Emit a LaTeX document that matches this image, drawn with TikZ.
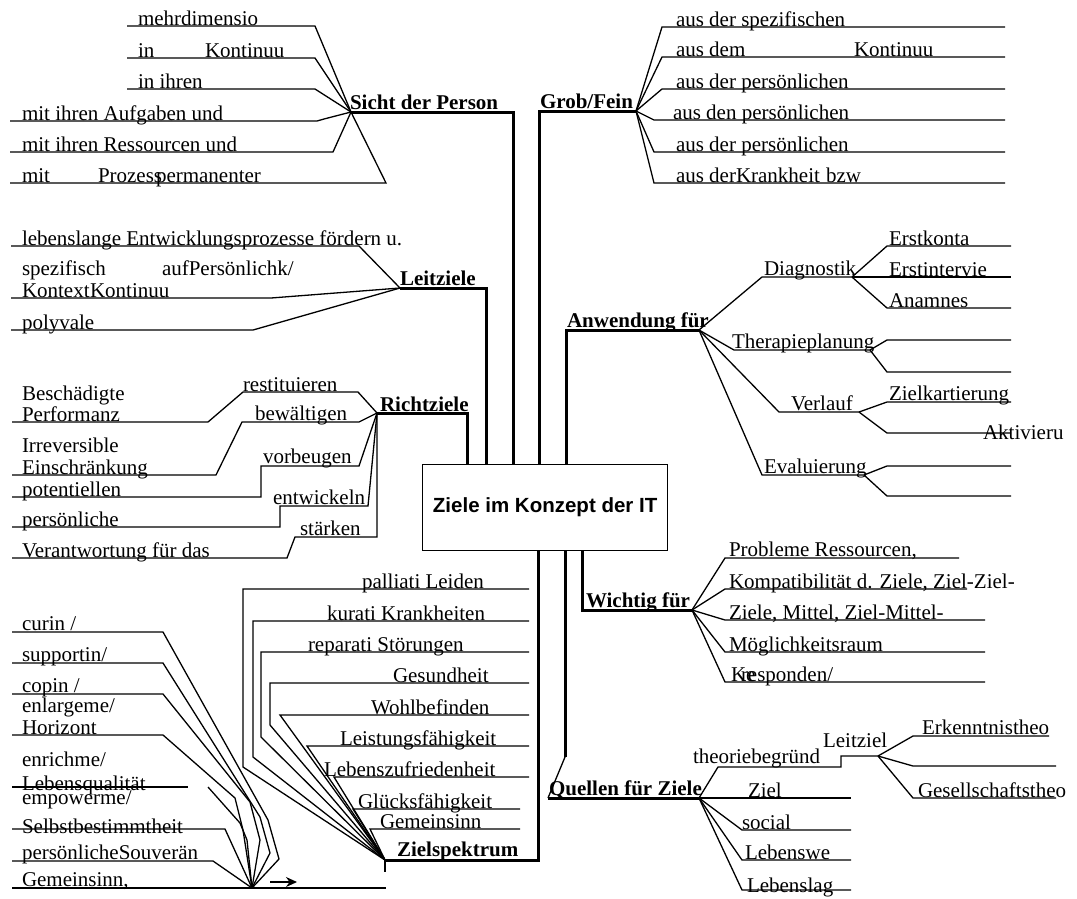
\documentclass[tikz,border=0pt]{standalone}
\usepackage{fontspec}
\setmainfont{Liberation Serif}
\newfontfamily\sansbox{Liberation Sans}
\usetikzlibrary{arrows.meta}
\tikzset{
  txt/.style={anchor=base west, inner sep=0pt, outer sep=0pt, font=\fontsize{21}{25}\selectfont},
  lbl/.style={anchor=base west, inner sep=0pt, outer sep=0pt, font=\fontsize{21}{25}\selectfont\bfseries},
  ln/.style={line width=1.3pt, line join=miter},
  thk/.style={line width=3pt, line join=miter},
}
\begin{document}
\begin{tikzpicture}[x=1pt,y=-1pt]
\useasboundingbox (0,0) rectangle (1077,898);
\fill[white] (0,0) rectangle (1077,898);

% central box
\node[draw, line width=1.3pt, minimum width=245pt, minimum height=86pt, inner sep=0pt,
      anchor=north west, font=\sansbox\bfseries\fontsize{20.5}{24}\selectfont] (box) at (422,464) {Ziele im Konzept der IT};

% ---------------- Sicht der Person
\coordinate (hubS) at (351,112);
\coordinate (cS) at (513,112);
\node[lbl] (lS) at (350,109) {Sicht der Person};
\draw[thk] (hubS) -- (cS) -- (cS |- box.north);
\coordinate (s1) at (127,26);
\coordinate (s2) at (127,58);
\coordinate (s3) at (127,89);
\coordinate (s4) at (10,121);
\coordinate (s5) at (10,152);
\coordinate (s6) at (10,183);
\draw[ln] (hubS) -- (315,26) -- (s1);
\draw[ln] (hubS) -- (315,58) -- (s2);
\draw[ln] (hubS) -- (315,89) -- (s3);
\draw[ln] (hubS) -- (324,119) -- (317,121) -- (s4);
\draw[ln] (hubS) -- (333,152) -- (s5);
\draw[ln] (hubS) -- (386,183) -- (s6);
\node[txt] (ts1) at (138,25) {mehrdimensio};
\node[txt] (ts2a) at (138,57) {in};
\node[txt] (ts2b) at (205,57) {Kontinuu};
\node[txt] (ts3) at (138,88) {in ihren};
\node[txt] (ts4) at (22,120) {mit ihren Aufgaben und};
\node[txt] (ts5) at (22,151) {mit ihren Ressourcen und};
\node[txt] (ts6a) at (22,182) {mit};
\node[txt] (ts6b) at (98,182) {Prozess};
\node[txt] (ts6c) at (156,182) {permanenter};

% ---------------- Grob/Fein
\coordinate (hubG) at (636,111);
\coordinate (cG) at (539,111);
\node[lbl] (lG) at (540,108) {Grob/Fein};
\draw[thk] (hubG) -- (cG) -- (cG |- box.north);
\coordinate (g1) at (1005,27);
\coordinate (g2) at (1005,57);
\coordinate (g3) at (1005,89);
\coordinate (g4) at (1005,120);
\coordinate (g5) at (1005,152);
\coordinate (g6) at (1005,183);
\draw[ln] (hubG) -- (662,27) -- (g1);
\draw[ln] (hubG) -- (662,57) -- (g2);
\draw[ln] (hubG) -- (662,89) -- (g3);
\draw[ln] (hubG) -- (654,120) -- (g4);
\draw[ln] (hubG) -- (654,152) -- (g5);
\draw[ln] (hubG) -- (654,183) -- (g6);
\node[txt] (tg1) at (676,26) {aus der spezifischen};
\node[txt] (tg2a) at (676,56) {aus dem};
\node[txt] (tg2b) at (854,56) {Kontinuu};
\node[txt] (tg3) at (676,88) {aus der persönlichen};
\node[txt] (tg4) at (673,119) {aus den persönlichen};
\node[txt] (tg5) at (676,151) {aus der persönlichen};
\node[txt] (tg6a) at (676,182) {aus der};
\node[txt] (tg6b) at (736,182) {Krankheit};
\node[txt] (tg6c) at (826,182) {bzw};

% ---------------- Leitziele
\coordinate (hubL) at (400,288);
\coordinate (cL) at (486,288);
\node[lbl] (lL) at (400,285) {Leitziele};
\draw[thk] (hubL) -- (cL) -- (cL |- box.north);
\coordinate (l1) at (11,246);
\coordinate (l2) at (11,298);
\coordinate (l3) at (11,330);
\draw[ln] (hubL) -- (359,246) -- (l1);
\draw[ln] (hubL) -- (271,298) -- (l2);
\draw[ln] (hubL) -- (253,330) -- (l3);
\node[txt] (tl1) at (22,245) {lebenslange Entwicklungsprozesse fördern u.};
\node[txt] (tl2a) at (22,275) {spezifisch};
\node[txt] (tl2b) at (162,275) {aufPersönlichk/};
\node[txt] (tl2c) at (22,297) {Kontext};
\node[txt] (tl2d) at (90,297) {Kontinuu};
\node[txt] (tl3) at (22,329) {polyvale};

% ---------------- Richtziele
\coordinate (hubR) at (377,413);
\coordinate (cR) at (467,413);
\node[lbl] (lR) at (380,411) {Richtziele};
\draw[thk] (hubR) -- (cR) -- (cR |- box.north);
\coordinate (r1) at (12,422);
\coordinate (r2) at (12,475);
\coordinate (r3) at (12,497);
\coordinate (r4) at (12,527);
\coordinate (r5) at (12,558);
\draw[ln] (hubR) -- (358,392) -- (243,392) -- (208,422) -- (r1);
\draw[ln] (hubR) -- (359,422) -- (242,422) -- (216,475) -- (r2);
\draw[ln] (hubR) -- (359,466) -- (261,466) -- (261,497) -- (r3);
\draw[ln] (hubR) -- (368,506) -- (280,506) -- (280,527) -- (r4);
\draw[ln] (hubR) -- (377,537) -- (295,537) -- (287,558) -- (r5);
\node[txt] (tr1a) at (22,400) {Beschädigte};
\node[txt] (tr1b) at (22,421) {Performanz};
\node[txt] (tr1c) at (243,391) {restituieren};
\node[txt] (tr2a) at (22,452) {Irreversible};
\node[txt] (tr2b) at (22,474) {Einschränkung};
\node[txt] (tr2c) at (255,420) {bewältigen};
\node[txt] (tr3a) at (22,496) {potentiellen};
\node[txt] (tr3b) at (263,463) {vorbeugen};
\node[txt] (tr4a) at (22,526) {persönliche};
\node[txt] (tr4b) at (273,504) {entwickeln};
\node[txt] (tr5a) at (22,557) {Verantwortung für das};
\node[txt] (tr5b) at (300,535) {stärken};

% ---------------- Zielspektrum
\coordinate (hubZ) at (385,860);
\coordinate (cZ) at (538,860);
\coordinate (tick) at (385,872);
\node[lbl] (lZ) at (397,856) {Zielspektrum};
\draw[thk] (hubZ) -- (cZ) -- (cZ |- box.south);
\draw[ln] (hubZ) -- (tick);
\coordinate (z1) at (529,589);
\coordinate (z2) at (529,621);
\coordinate (z3) at (529,652);
\coordinate (z4) at (529,683);
\coordinate (z5) at (529,715);
\coordinate (z6) at (529,746);
\coordinate (z7) at (529,777);
\coordinate (z8) at (520,809);
\coordinate (z9) at (520,829);
\draw[ln] (hubZ) -- (243,767) -- (243,589) -- (z1);
\draw[ln] (hubZ) -- (253,757) -- (253,621) -- (z2);
\draw[ln] (hubZ) -- (261,737) -- (261,652) -- (z3);
\draw[ln] (hubZ) -- (270,725) -- (270,683) -- (z4);
\draw[ln] (hubZ) -- (280,715) -- (z5);
\draw[ln] (hubZ) -- (307,746) -- (z6);
\draw[ln] (hubZ) -- (334,777) -- (z7);
\draw[ln] (hubZ) -- (353,809) -- (z8);
\draw[ln] (hubZ) -- (370,829) -- (z9);
\node[txt] (tz1) at (362,588) {palliati Leiden};
\node[txt] (tz2) at (327,620) {kurati Krankheiten};
\node[txt] (tz3) at (308,651) {reparati Störungen};
\node[txt] (tz4) at (393,682) {Gesundheit};
\node[txt] (tz5) at (371,714) {Wohlbefinden};
\node[txt] (tz6) at (340,745) {Leistungsfähigkeit};
\node[txt] (tz7) at (324,776) {Lebenszufriedenheit};
\node[txt] (tz8) at (358,808) {Glücksfähigkeit};
\node[txt] (tz9) at (380,828) {Gemeinsinn};

% ---------------- bottom-left fan
\coordinate (hubF) at (252,888);
\coordinate (f1) at (12,632);
\coordinate (f2) at (12,663);
\coordinate (f3) at (12,694);
\coordinate (f4) at (12,735);
\coordinate (f5a) at (12,787);
\coordinate (f5b) at (188,787);
\coordinate (f5c) at (208,787);
\coordinate (f6) at (12,829);
\coordinate (f7) at (12,861);
\coordinate (f8a) at (12,888);
\coordinate (f8b) at (386,888);
\draw[ln] (hubF) -- (279,859) -- (268,820) -- (163,632) -- (f1);
\draw[ln] (hubF) -- (270,853) -- (260,817) -- (163,663) -- (f2);
\draw[ln] (hubF) -- (260,840) -- (250,802) -- (163,694) -- (f3);
\draw[ln] (hubF) -- (243,830) -- (235,798) -- (163,735) -- (f4);
\draw[ln] (f5a) -- (f5b);
\draw[ln] (hubF) -- (247,840) -- (240,823) -- (f5c);
\draw[ln] (hubF) -- (225,829) -- (f6);
\draw[ln] (hubF) -- (213,861) -- (f7);
\draw[ln] (f8a) -- (f8b);
\coordinate (ar1) at (270,882);
\coordinate (ar2) at (297,882);
\draw[ln, -{Stealth[length=11pt,width=10pt]}] (ar1) -- (ar2);
\node[txt] (tf1) at (22,630) {curin /};
\node[txt] (tf2) at (22,661) {supportin/};
\node[txt] (tf3) at (22,692) {copin /};
\node[txt] (tf4a) at (22,712) {enlargeme/};
\node[txt] (tf4b) at (22,734) {Horizont};
\node[txt] (tf5a) at (22,766) {enrichme/};
\node[txt] (tf5b) at (22,790) {Lebensqualität};
\node[txt] (tf5c) at (22,804) {empowerme/};
\node[txt] (tf6) at (22,833) {Selbstbestimmtheit};
\node[txt] (tf7) at (22,859) {persönlicheSouverän};
\node[txt] (tf8) at (22,886) {Gemeinsinn,};

% ---------------- Anwendung für
\coordinate (hubA) at (699,330);
\coordinate (cA) at (566,330);
\node[lbl] (lA) at (567,327) {Anwendung für};
\draw[thk] (hubA) -- (cA) -- (cA |- box.north);
\coordinate (hD) at (852,277);
\coordinate (hT) at (870,350);
\coordinate (hV) at (859,412);
\coordinate (hE) at (864,475);
\draw[ln] (hubA) -- (762,277) -- (hD);
\draw[ln] (hubA) -- (734,350) -- (hT);
\draw[ln] (hubA) -- (779,412) -- (hV);
\draw[ln] (hubA) -- (762,475) -- (hE);
\coordinate (d1) at (1011,246);
\coordinate (d2) at (1011,277);
\coordinate (d3) at (1011,308);
\coordinate (t1) at (1011,340);
\coordinate (t2) at (1011,372);
\coordinate (v1) at (1011,402);
\coordinate (v2) at (1011,433);
\coordinate (e1) at (1011,466);
\coordinate (e2) at (1011,496);
\draw[ln] (hD) -- (887,246) -- (d1);
\draw[ln] (hD) -- (d2);
\draw[ln] (hD) -- (887,308) -- (d3);
\draw[ln] (hT) -- (887,340) -- (t1);
\draw[ln] (hT) -- (887,372) -- (t2);
\draw[ln] (hV) -- (887,402) -- (v1);
\draw[ln] (hV) -- (887,433) -- (v2);
\draw[ln] (hE) -- (887,466) -- (e1);
\draw[ln] (hE) -- (887,496) -- (e2);
\node[txt] (ta1) at (764,275) {Diagnostik};
\node[txt] (ta2) at (732,348) {Therapieplanung};
\node[txt] (ta3) at (791,410) {Verlauf};
\node[txt] (ta4) at (764,473) {Evaluierung};
\node[txt] (td1) at (889,245) {Erstkonta};
\node[txt] (td2) at (889,276) {Erstintervie};
\node[txt] (td3) at (889,307) {Anamnes};
\node[txt] (tv1) at (889,400) {Zielkartierung};
\node[txt] (tv2) at (983,439) {Aktivieru};

% ---------------- Wichtig für
\coordinate (hubW) at (692,610);
\coordinate (cW) at (582,610);
\node[lbl] (lW) at (586,607) {Wichtig für};
\draw[thk] (hubW) -- (cW) -- (cW |- box.south);
\coordinate (w1) at (959,558);
\coordinate (w2) at (967,589);
\coordinate (w3) at (985,620);
\coordinate (w4) at (985,652);
\coordinate (w5) at (985,682);
\draw[ln] (hubW) -- (725,558) -- (w1);
\draw[ln] (hubW) -- (725,589) -- (w2);
\draw[ln] (hubW) -- (725,620) -- (w3);
\draw[ln] (hubW) -- (725,652) -- (w4);
\draw[ln] (hubW) -- (725,682) -- (w5);
\node[txt] (tw1) at (729,556) {Probleme Ressourcen,};
\node[txt] (tw2) at (729,588) {Kompatibilität d. Ziele, Ziel-Ziel-};
\node[txt] (tw3) at (729,619) {Ziele, Mittel, Ziel-Mittel-};
\node[txt] (tw4) at (729,651) {Möglichkeitsraum};
\node[txt] (tw5a) at (731,681) {Ke};
\node[txt] (tw5b) at (741,681) {responden/};

% ---------------- Quellen für Ziele
\coordinate (hubQ) at (699,798);
\coordinate (qA) at (565,757);
\coordinate (qB) at (548,798);
\node[lbl] (lQ) at (549,795) {Quellen für Ziele};
\draw[thk] (box.south -| qA) -- (qA);
\draw[ln] (qA) -- (qB);
\draw[thk] (qB) -- (hubQ);
\coordinate (hLz) at (878,756);
\draw[ln] (hubQ) -- (718,767) -- (841,767) -- (841,756) -- (hLz);
\coordinate (k1) at (1049,736);
\coordinate (k2) at (1056,766);
\coordinate (k3) at (1056,798);
\draw[ln] (hLz) -- (913,736) -- (k1);
\draw[ln] (hLz) -- (913,766) -- (k2);
\draw[ln] (hLz) -- (913,798) -- (k3);
\coordinate (q2) at (851,798);
\coordinate (q3) at (851,830);
\coordinate (q4) at (851,860);
\coordinate (q5) at (851,890);
\draw[ln] (hubQ) -- (q2);
\draw[ln] (hubQ) -- (742,830) -- (q3);
\draw[ln] (hubQ) -- (742,860) -- (q4);
\draw[ln] (hubQ) -- (742,890) -- (q5);
\node[txt] (tq1) at (693,763) {theoriebegründ};
\node[txt] (tq1b) at (823,747) {Leitziel};
\node[txt] (tk1) at (922,734) {Erkenntnistheo};
\node[txt] (tk3) at (918,797) {Gesellschaftstheo};
\node[txt] (tq2) at (748,797) {Ziel};
\node[txt] (tq3) at (742,829) {social};
\node[txt] (tq4) at (745,859) {Lebenswe};
\node[txt] (tq5) at (747,892) {Lebenslag};
\end{tikzpicture}
\end{document}
